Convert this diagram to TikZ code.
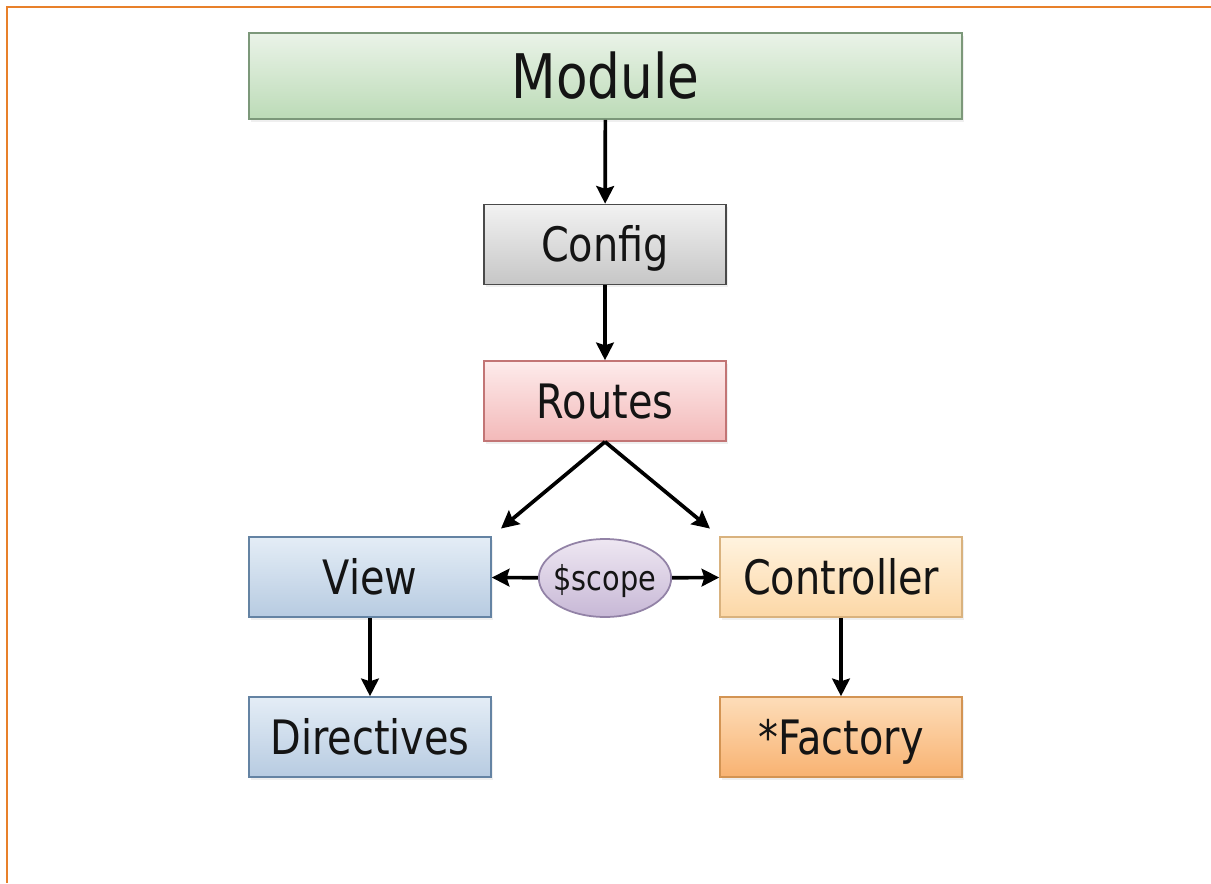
\documentclass[tikz,border=0pt]{standalone}
\usepackage{fontspec}
\setmainfont{DejaVu Sans}[FakeStretch=0.84]
\usetikzlibrary{arrows.meta,shapes.geometric,shadows}
\definecolor{framecol}{HTML}{E8802A}
\definecolor{modtop}{HTML}{EAF3E8}
\definecolor{modbot}{HTML}{BCDBB7}
\definecolor{modline}{HTML}{7C987A}
\definecolor{cfgtop}{HTML}{F2F2F2}
\definecolor{cfgbot}{HTML}{C6C6C6}
\definecolor{cfgline}{HTML}{4A4A4A}
\definecolor{rtetop}{HTML}{FDEBEB}
\definecolor{rtebot}{HTML}{F3B9B9}
\definecolor{rteline}{HTML}{C27575}
\definecolor{viewtop}{HTML}{E4EDF6}
\definecolor{viewbot}{HTML}{B7CBE1}
\definecolor{viewline}{HTML}{6483A3}
\definecolor{ctrltop}{HTML}{FFF3DF}
\definecolor{ctrlbot}{HTML}{FCD7A6}
\definecolor{ctrlline}{HTML}{D9B27E}
\definecolor{facttop}{HTML}{FDDDB9}
\definecolor{factbot}{HTML}{F8B271}
\definecolor{factline}{HTML}{D39453}
\definecolor{scptop}{HTML}{EEE7F2}
\definecolor{scpbot}{HTML}{C7B8D6}
\definecolor{scpline}{HTML}{9282A6}

\begin{document}
\begin{tikzpicture}[x=0.02cm,y=-0.02cm,
  box/.style={draw,line width=0.9pt,minimum width=4.84cm,minimum height=1.6cm,inner sep=0pt,
    text height=19.7pt,text depth=0pt,font=\fontsize{27}{30}\selectfont,text=black!92,
    drop shadow={opacity=0.12,shadow xshift=1pt,shadow yshift=-1.5pt}},
  link/.style={line width=2.1pt,-{Stealth[length=10pt,width=10pt,inset=1.5pt]}}]

\useasboundingbox (0,0) rectangle (1211,883);
\fill[white] (0,0) rectangle (1211,883);
\draw[framecol,line width=1.2pt] (7,883) -- (7,7) -- (1211,7);

\node[box,minimum width=14.26cm,minimum height=1.72cm,text height=25.5pt,font=\fontsize{35}{40}\selectfont,
  top color=modtop,bottom color=modbot,draw=modline] (module) at (605.5,76) {Module};
\node[box,top color=cfgtop,bottom color=cfgbot,draw=cfgline] (config) at (605,244.5) {Config};
\node[box,top color=rtetop,bottom color=rtebot,draw=rteline] (routes) at (605,401) {Routes};
\node[box,top color=viewtop,bottom color=viewbot,draw=viewline] (view) at (370,577) {View};
\node[box,top color=ctrltop,bottom color=ctrlbot,draw=ctrlline] (controller) at (841,577) {Controller};
\node[box,top color=viewtop,bottom color=viewbot,draw=viewline] (directives) at (370,737) {Directives};
\node[box,top color=facttop,bottom color=factbot,draw=factline] (factory) at (841,737) {*Factory};
\node[ellipse,draw=scpline,line width=1pt,minimum width=2.6cm,minimum height=1.56cm,inner xsep=-2.6pt,inner ysep=0pt,
  top color=scptop,bottom color=scpbot,text height=14.2pt,text depth=0pt,
  font=\fontsize{19.5}{22}\selectfont,text=black!92] (scope) at (605,578) {\$scope};

\draw[link] (module) -- (config);
\draw[link] (config) -- (routes);
\draw[link,shorten >=0.24cm] (routes.south) -- (view.north east);
\draw[link,shorten >=0.24cm] (routes.south) -- (controller.north west);
\draw[link] (scope) -- (view);
\draw[link] (scope) -- (controller);
\draw[link] (view) -- (directives);
\draw[link] (controller) -- (factory);
\end{tikzpicture}
\end{document}
